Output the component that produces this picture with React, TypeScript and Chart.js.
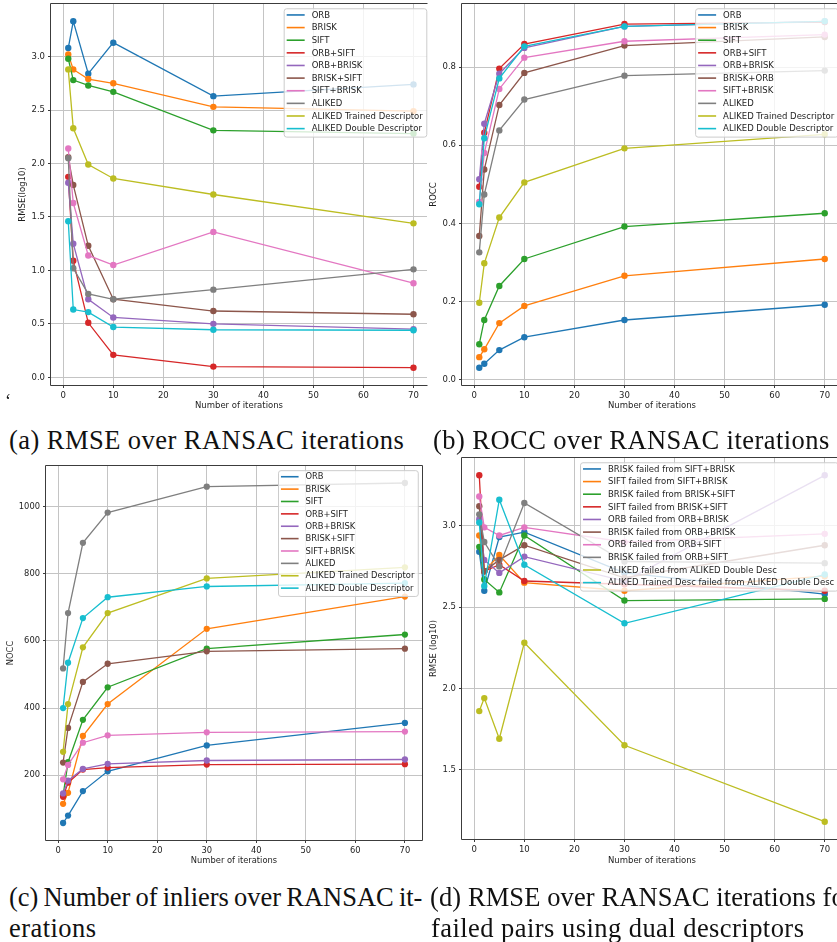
import React, { useEffect, useRef } from "react";
import { Chart, registerables } from "chart.js";

Chart.register(...registerables);

// ---------- shared data ----------
const ITERATIONS = [1, 2, 5, 10, 30, 70];
const X_TICKS = [0, 10, 20, 30, 40, 50, 60, 70];
const TAB10 = ["#1f77b4", "#ff7f0e", "#2ca02c", "#d62728", "#9467bd", "#8c564b", "#e377c2", "#7f7f7f", "#bcbd22", "#17becf"];

// ---------- (a) RMSE ----------
const LABELS_A = ["ORB", "BRISK", "SIFT", "ORB+SIFT", "ORB+BRISK", "BRISK+SIFT", "SIFT+BRISK", "ALIKED", "ALIKED Trained Descriptor", "ALIKED Double Descriptor"];
const rmseOrb = [3.08, 3.33, 2.84, 3.13, 2.63, 2.74];
const rmseBrisk = [3.02, 2.88, 2.79, 2.75, 2.53, 2.49];
const rmseSift = [2.98, 2.78, 2.73, 2.67, 2.31, 2.28];
const rmseOrbSift = [1.875, 1.09, 0.51, 0.21, 0.1, 0.09];
const rmseOrbBrisk = [1.82, 1.25, 0.73, 0.56, 0.5, 0.45];
const rmseBriskSift = [2.06, 1.8, 1.23, 0.73, 0.62, 0.59];
const rmseSiftBrisk = [2.14, 1.63, 1.14, 1.05, 1.36, 0.88];
const rmseAliked = [2.05, 1.02, 0.78, 0.73, 0.82, 1.01];
const rmseAlikedTrained = [2.88, 2.33, 1.99, 1.86, 1.71, 1.44];
const rmseAlikedDouble = [1.46, 0.634, 0.61, 0.47, 0.445, 0.44];
const Y_TICKS_A = [0, 0.5, 1, 1.5, 2, 2.5, 3];

// ---------- (b) ROCC ----------
const LABELS_B = ["ORB", "BRISK", "SIFT", "ORB+SIFT", "ORB+BRISK", "BRISK+ORB", "SIFT+BRISK", "ALIKED", "ALIKED Trained Descriptor", "ALIKED Double Descriptor"];
const roccOrb = [0.031, 0.041, 0.076, 0.109, 0.153, 0.192];
const roccBrisk = [0.058, 0.078, 0.145, 0.189, 0.266, 0.309];
const roccSift = [0.091, 0.153, 0.24, 0.309, 0.392, 0.426];
const roccOrbSift = [0.494, 0.632, 0.796, 0.859, 0.91, 0.915];
const roccOrbBrisk = [0.513, 0.655, 0.783, 0.849, 0.904, 0.917];
const roccBriskOrb = [0.368, 0.538, 0.703, 0.785, 0.855, 0.877];
const roccSiftBrisk = [0.455, 0.58, 0.744, 0.824, 0.866, 0.883];
const roccAliked = [0.326, 0.474, 0.638, 0.717, 0.778, 0.791];
const roccAlikedTrained = [0.197, 0.298, 0.415, 0.505, 0.592, 0.628];
const roccAlikedDouble = [0.449, 0.618, 0.771, 0.853, 0.904, 0.917];
const Y_TICKS_B = [0, 0.2, 0.4, 0.6, 0.8];

// ---------- (c) NOCC ----------
const LABELS_C = LABELS_A;
const noccOrb = [58, 80, 153, 212, 289, 356];
const noccBrisk = [115, 148, 317, 412, 636, 732];
const noccSift = [140, 239, 365, 462, 577, 619];
const noccOrbSift = [136, 178, 217, 223, 232, 233];
const noccOrbBrisk = [146, 184, 219, 234, 244, 247];
const noccBriskSift = [238, 341, 478, 532, 569, 577];
const noccSiftBrisk = [188, 231, 297, 319, 328, 330];
const noccAliked = [518, 683, 892, 982, 1059, 1070];
const noccAlikedTrained = [270, 412, 581, 683, 786, 819];
const noccAlikedDouble = [400, 535, 668, 730, 762, 772];
const Y_TICKS_C = [200, 400, 600, 800, 1000];

// ---------- (d) RMSE failed pairs ----------
const LABELS_D = [
  "BRISK failed from SIFT+BRISK",
  "SIFT failed from SIFT+BRISK",
  "BRISK failed from BRISK+SIFT",
  "SIFT failed from BRISK+SIFT",
  "ORB failed from ORB+BRISK",
  "BRISK failed from ORB+BRISK",
  "ORB failed from ORB+SIFT",
  "BRISK failed from ORB+SIFT",
  "ALIKED failed from ALIKED Double Desc",
  "ALIKED Trained Desc failed from ALIKED Double Desc",
];
const failBriskSB = [2.84, 2.6, 2.93, 2.96, 2.71, 2.58];
const failSiftSB = [2.94, 2.72, 2.82, 2.65, 2.6, 2.69];
const failBriskBS = [2.87, 2.67, 2.59, 2.94, 2.54, 2.55];
const failSiftBS = [3.31, 2.72, 2.76, 2.66, 2.64, 2.6];
const failOrbOB = [3.04, 2.79, 2.71, 2.81, 2.66, 3.31];
const failBriskOB = [3.12, 2.72, 2.79, 2.88, 2.68, 2.88];
const failOrbOS = [3.18, 2.99, 2.94, 2.99, 2.9, 2.95];
const failBriskOS = [3.07, 2.9, 2.75, 3.14, 2.78, 2.77];
const failAliked = [1.86, 1.94, 1.69, 2.28, 1.65, 1.18];
const failAlikedTrained = [3.02, 2.63, 3.16, 2.76, 2.4, 2.7];
const Y_TICKS_D = [1.5, 2, 2.5, 3];

// ---------- styling ----------
const GRID = "#c4c4c4";
const FRAME = "#3c3c3c";
const TEXT = "#1e1e1e";
const SANS = "DejaVu Sans";

type Spec = {
  left: number; top: number; width: number; height: number;
  padTop: number; padRight: number; yAxisW: number; xAxisH: number;
  xMin: number; xMax: number; yTicks: number[]; yDigits: number;
  yTitle: string; yTitlePad: number; labels: string[]; series: number[][];
  frameRight: boolean; legendInset: number; s: number;
};

const SPECS: Spec[] = [
  { left: 0, top: 0, width: 431, height: 420, padTop: 3, padRight: 0, yAxisW: 51, xAxisH: 35, xMin: -2.45, xMax: 72.7,
    yTicks: Y_TICKS_A, yDigits: 1, yTitle: "RMSE(log10)", yTitlePad: 18, labels: LABELS_A,
    series: [rmseOrb, rmseBrisk, rmseSift, rmseOrbSift, rmseOrbBrisk, rmseBriskSift, rmseSiftBrisk, rmseAliked, rmseAlikedTrained, rmseAlikedDouble],
    frameRight: false, legendInset: 0.7, s: 1 },
  { left: 429, top: 0, width: 417, height: 420, padTop: 3, padRight: 0, yAxisW: 33, xAxisH: 35, xMin: -2.45, xMax: 73.45,
    yTicks: Y_TICKS_B, yDigits: 1, yTitle: "ROCC", yTitlePad: 0, labels: LABELS_B,
    series: [roccOrb, roccBrisk, roccSift, roccOrbSift, roccOrbBrisk, roccBriskOrb, roccSiftBrisk, roccAliked, roccAlikedTrained, roccAlikedDouble],
    frameRight: true, legendInset: 4.25, s: 1 },
  { left: 0, top: 455, width: 431, height: 420, padTop: 11, padRight: 9, yAxisW: 46, xAxisH: 35, xMin: -2.45, xMax: 73.45,
    yTicks: Y_TICKS_C, yDigits: 0, yTitle: "NOCC", yTitlePad: 6, labels: LABELS_C,
    series: [noccOrb, noccBrisk, noccSift, noccOrbSift, noccOrbBrisk, noccBriskSift, noccSiftBrisk, noccAliked, noccAlikedTrained, noccAlikedDouble],
    frameRight: true, legendInset: 4.25, s: 0.98 },
  { left: 429, top: 450, width: 417, height: 425, padTop: 8, padRight: 0, yAxisW: 33, xAxisH: 36, xMin: -2.45, xMax: 73.45,
    yTicks: Y_TICKS_D, yDigits: 1, yTitle: "RMSE (log10)", yTitlePad: 0, labels: LABELS_D,
    series: [failBriskSB, failSiftSB, failBriskBS, failSiftBS, failOrbOB, failBriskOB, failOrbOS, failBriskOS, failAliked, failAlikedTrained],
    frameRight: true, legendInset: 4.25, s: 1 },
];

function framePlugin(spec: Spec) {
  return {
    id: "frameLegend",
    afterDatasetsDraw(chart: any) {
      const { ctx, chartArea: a } = chart;
      const s = spec.s;
      ctx.save();
      // spines
      ctx.strokeStyle = FRAME;
      ctx.lineWidth = 1;
      const L = a.left - 0.5, T = a.top - 0.5, B = a.bottom + 0.5, R = a.right + 0.5;
      ctx.beginPath();
      ctx.moveTo(R, T); ctx.lineTo(L, T); ctx.lineTo(L, B); ctx.lineTo(R, B);
      if (spec.frameRight) { ctx.lineTo(R, T); }
      ctx.stroke();
      // legend
      const fs = 8.5 * s;
      ctx.font = `${fs}px "${SANS}"`;
      const maxW = Math.max(...spec.labels.map((t) => ctx.measureText(t).width));
      const rowH = 12.63 * s;
      const w = 28 * s + maxW + 3.5 * s;
      const h = rowH * (spec.labels.length - 1) + 14.7 * s;
      const right = a.right - spec.legendInset;
      const left = right - w;
      const top = a.top + 4.25 * s;
      ctx.beginPath();
      ctx.roundRect(left + 0.5, top + 0.5, w, h, 2.5);
      ctx.fillStyle = "rgba(255,255,255,0.8)";
      ctx.fill();
      ctx.strokeStyle = "#cccccc";
      ctx.stroke();
      ctx.textBaseline = "middle";
      ctx.textAlign = "left";
      spec.labels.forEach((label, i) => {
        const y = top + 6.7 * s + i * rowH;
        ctx.strokeStyle = TAB10[i];
        ctx.lineWidth = 1.6;
        ctx.beginPath();
        ctx.moveTo(left + 3 * s, y);
        ctx.lineTo(left + 21 * s, y);
        ctx.stroke();
        ctx.fillStyle = TEXT;
        ctx.fillText(label, left + 28 * s, y + 0.5);
      });
      ctx.restore();
    },
  };
}

function buildConfig(spec: Spec): any {
  const n = spec.series.length;
  const all = spec.series.flat();
  const lo = Math.min(...all);
  const hi = Math.max(...all);
  const m = (hi - lo) * 0.05;
  const font = { family: SANS, size: 8.5 * spec.s };
  const zeroPad = (sc: any) => { sc.paddingLeft = 0; sc.paddingRight = 0; sc.paddingTop = 0; sc.paddingBottom = 0; };
  return {
    type: "line",
    data: {
      datasets: spec.series.map((vals, i) => ({
        label: spec.labels[i],
        data: ITERATIONS.map((x, j) => ({ x, y: vals[j] })),
        borderColor: TAB10[i],
        backgroundColor: TAB10[i],
        pointBackgroundColor: TAB10[i],
        pointBorderColor: TAB10[i],
        pointBorderWidth: 0,
        pointRadius: 3.2 * spec.s,
        borderWidth: 1.3,
        tension: 0,
        order: n - i,
      })),
    },
    options: {
      animation: false,
      responsive: false,
      events: [],
      layout: { padding: { top: spec.padTop, right: spec.padRight, left: 0, bottom: 0 } },
      plugins: { legend: { display: false }, tooltip: { enabled: false } },
      scales: {
        x: {
          type: "linear",
          min: spec.xMin,
          max: spec.xMax,
          afterBuildTicks: (sc: any) => { sc.ticks = X_TICKS.map((v) => ({ value: v })); },
          afterFit: (sc: any) => { sc.height = spec.xAxisH; zeroPad(sc); },
          grid: { color: GRID, lineWidth: 1, tickColor: FRAME, tickLength: 3, drawTicks: true },
          border: { display: false },
          ticks: { font, color: TEXT, padding: 3, maxRotation: 0, autoSkip: false, callback: (v: any) => String(v) },
          title: { display: true, text: "Number of iterations", font, color: TEXT, padding: { top: 0, bottom: 9 } },
        },
        y: {
          type: "linear",
          min: lo - m,
          max: hi + m,
          afterBuildTicks: (sc: any) => { sc.ticks = spec.yTicks.map((v) => ({ value: v })); },
          afterFit: (sc: any) => { sc.width = spec.yAxisW; zeroPad(sc); },
          grid: { color: GRID, lineWidth: 1, tickColor: FRAME, tickLength: 3, drawTicks: true },
          border: { display: false },
          ticks: { font, color: TEXT, padding: 3, autoSkip: false, callback: (v: any) => Number(v).toFixed(spec.yDigits) },
          title: { display: true, text: spec.yTitle, font, color: TEXT, padding: { top: spec.yTitlePad, bottom: 0 } },
        },
      },
    },
    plugins: [framePlugin(spec)],
  };
}

function Panel({ spec }: { spec: Spec }) {
  const ref = useRef<HTMLCanvasElement>(null);
  useEffect(() => {
    const canvas = ref.current;
    if (!canvas) return;
    const chart = new Chart(canvas, buildConfig(spec));
    return () => chart.destroy();
  }, [spec]);
  return (
    <canvas
      ref={ref}
      width={spec.width}
      height={spec.height}
      style={{ position: "absolute", left: spec.left, top: spec.top, width: spec.width, height: spec.height }}
    />
  );
}

const capStyle: React.CSSProperties = {
  position: "absolute",
  fontFamily: '"Liberation Serif", serif',
  fontSize: 26.5,
  lineHeight: "30px",
  whiteSpace: "nowrap",
  color: "#111",
  letterSpacing: "0.45px",
};

export default function App() {
  return (
    <div style={{ position: "fixed", left: 0, top: 0, width: 837, height: 942, overflow: "hidden", background: "#fff" }}>
      {SPECS.map((sp, i) => (
        <Panel key={i} spec={sp} />
      ))}
      <div style={{ ...capStyle, left: 5, top: 391, fontSize: 18, lineHeight: "20px" }}>‘</div>
      <div style={{ ...capStyle, left: 9, top: 425 }}>(a) RMSE over RANSAC iterations</div>
      <div style={{ ...capStyle, left: 433, top: 425 }}>(b) ROCC over RANSAC iterations</div>
      <div style={{ ...capStyle, left: 9, top: 882, letterSpacing: "0px", wordSpacing: "-1.5px" }}>(c) Number of inliers over RANSAC it-</div>
      <div style={{ ...capStyle, left: 9, top: 913 }}>erations</div>
      <div style={{ ...capStyle, left: 430, top: 882, letterSpacing: "0.1px" }}>(d) RMSE over RANSAC iterations for</div>
      <div style={{ ...capStyle, left: 431, top: 913 }}>failed pairs using dual descriptors</div>
    </div>
  );
}
